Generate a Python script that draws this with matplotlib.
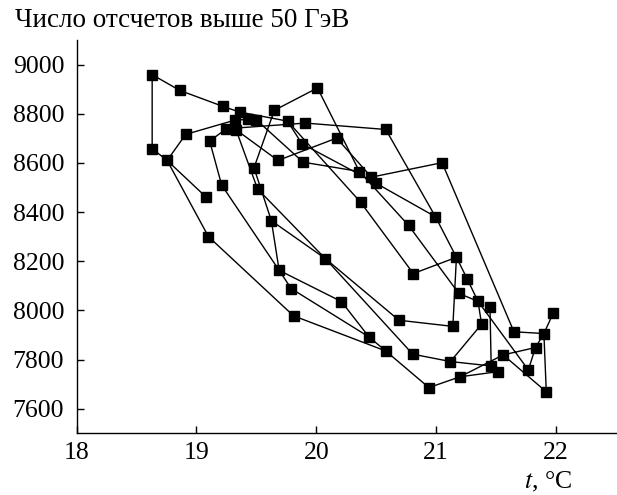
import matplotlib
matplotlib.use('Agg')
import matplotlib.pyplot as plt

plt.rcParams['font.family'] = ['Liberation Serif', 'DejaVu Serif']
plt.rcParams['mathtext.fontset'] = 'stix'

# daily means: air temperature (deg C) and counts above 50 GeV
temperature = [
    19.08, 18.755, 18.63, 18.63, 18.86, 19.22, 19.36, 19.32, 19.43, 19.50,
    19.65, 20.01, 19.76, 19.91, 19.25, 19.33, 18.91, 19.11, 20.17, 19.88,
    19.68, 19.89, 20.36, 20.46, 20.50, 21.05, 20.37, 19.48, 19.51, 19.21,
    19.10, 19.625, 20.075, 19.69, 20.58, 20.995, 20.77, 21.17, 20.81, 21.26,
    21.19, 21.35, 21.45, 20.21, 21.38, 20.69, 21.14, 21.65, 21.90, 21.98,
    20.44, 21.83, 20.58, 20.805, 21.56, 21.12, 21.46, 21.52, 21.77, 21.20,
    20.94, 21.92, 19.79, 19.81,
]
counts = [
    8461, 8610, 8658, 8959, 8895, 8830, 8807, 8774, 8777, 8775,
    8814, 8905, 8770, 8762, 8739, 8735, 8716, 8689, 8701, 8678,
    8610, 8603, 8565, 8542, 8517, 8601, 8440, 8580, 8494, 8510,
    8300, 8365, 8211, 8163, 8736, 8381, 8346, 8216, 8150, 8128,
    8069, 8037, 8015, 8036, 7944, 7960, 7935, 7913, 7906, 7991,
    7892, 7849, 7835, 7822, 7819, 7792, 7774, 7751, 7758, 7730,
    7686, 7669, 8089, 7978,
]

# order in which the days are joined by lines
tracks = [
    [0, 1, 2, 3, 4, 5, 6, 12, 26, 38, 37, 46, 45, 32, 31, 27, 10, 11, 22, 36,
     40, 41, 58, 51, 54, 59, 60, 52, 63, 30, 1, 16, 7, 8, 9, 21, 22],
    [14, 17, 29, 33, 62, 50, 43, 33, 31],
    [15, 28, 32, 53, 55, 44, 41],
    [55, 56, 42],
    [59, 57],
    [54, 61, 48, 47, 25, 23, 18, 20, 15],
    [19, 24, 35, 34, 13, 14],
    [35, 37, 39, 41],
    [51, 48, 49],
    [50, 52],
    [12, 19],
]

fig = plt.figure(figsize=(6.17, 4.95), dpi=100)
ax = fig.add_axes([0.1243, 0.1246, 0.8737, 0.7946])

for track in tracks:
    ax.plot([temperature[i] for i in track], [counts[i] for i in track],
            color='black', linewidth=1.0, zorder=2)
ax.plot(temperature, counts, 's', color='black', markersize=6.5, zorder=3)

ax.set_xlim(18, 22.5)
ax.set_ylim(7500, 9100)
ax.set_xticks([18, 19, 20, 21, 22])
ax.set_yticks(range(7600, 9001, 200))

ax.spines['top'].set_visible(False)
ax.spines['right'].set_visible(False)
for side in ['left', 'bottom']:
    ax.spines[side].set_linewidth(1.0)
ax.tick_params(axis='both', direction='in', length=5, width=1.0, labelsize=18.5)
ax.tick_params(axis='x', pad=6)
ax.tick_params(axis='y', pad=9)

fig.text(15 / 617, 1 - 27 / 495, 'Число отсчетов выше 50 ГэВ', fontsize=19.5,
         ha='left', va='baseline')
fig.text(572 / 617, 7 / 495, r'$t$, °C', fontsize=18.5, ha='right', va='baseline')

plt.savefig('out.png', dpi=100)
